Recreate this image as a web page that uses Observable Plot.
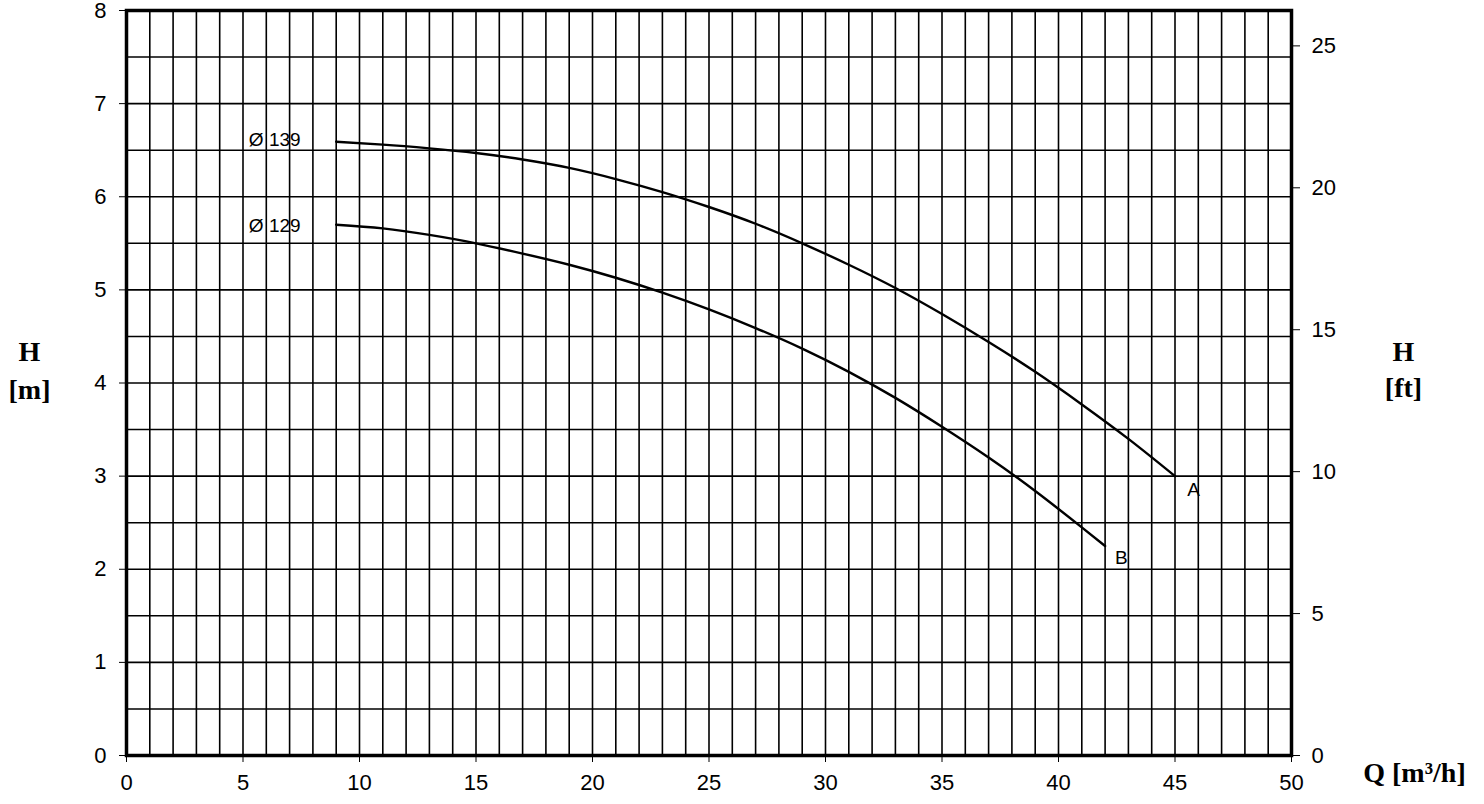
<!DOCTYPE html>
<html>
<head>
<meta charset="utf-8">
<script src="https://cdn.jsdelivr.net/npm/d3@7"></script>
<script src="https://cdn.jsdelivr.net/npm/@observablehq/plot@0.6"></script>
<style>
  html, body { margin: 0; padding: 0; background: #fff; }
  #chart svg { display: block; }
</style>
</head>
<body>
<div id="chart"></div>
<script>
// Curve A (Ø 139)
const qA = [9, 11, 13, 15, 17, 19, 21, 23, 25, 27, 29, 31, 33, 35, 37, 39, 41, 43, 45];
const hA = [6.59, 6.56, 6.52, 6.47, 6.40, 6.31, 6.19, 6.05, 5.89, 5.71, 5.50, 5.27, 5.02, 4.74, 4.44, 4.12, 3.77, 3.40, 3.0];
// Curve B (Ø 129)
const qB = [9, 11, 13, 15, 17, 19, 21, 23, 25, 27, 29, 31, 33, 35, 37, 39, 41, 42];
const hB = [5.70, 5.66, 5.59, 5.50, 5.39, 5.27, 5.13, 4.97, 4.79, 4.59, 4.37, 4.12, 3.84, 3.53, 3.20, 2.84, 2.45, 2.25];

// Tick values
const qTicks = [0, 5, 10, 15, 20, 25, 30, 35, 40, 45, 50];
const hTicks = [0, 1, 2, 3, 4, 5, 6, 7, 8];
const ftTicks = [0, 5, 10, 15, 20, 25];
const gridQ = d3.range(1, 50, 1);
const gridH = d3.range(0.5, 8, 0.5);

// Curve labels
const labelText = ["Ø 139", "Ø 129", "A", "B"];
const labelQ = [5.25, 5.25, 45.8, 42.7];
const labelH = [6.61, 5.69, 2.85, 2.12];
const labelAnchor = ["start", "start", "middle", "middle"];

const FT = 0.3048;

const curveA = qA.map((q, i) => ({q, h: hA[i]}));
const curveB = qB.map((q, i) => ({q, h: hB[i]}));
const labels = labelText.map((t, i) => ({t, q: labelQ[i], h: labelH[i], a: labelAnchor[i]}));

const serif = {fontFamily: "Liberation Serif", fontWeight: "bold", fontSize: 28, fill: "black", textAnchor: "middle"};

const chart = Plot.plot({
  width: 1484,
  height: 804,
  marginLeft: 126,
  marginRight: 193,
  marginTop: 10,
  marginBottom: 49,
  style: {fontFamily: "Liberation Sans", fontSize: "22px", color: "black", background: "white"},
  x: {domain: [0, 50]},
  y: {domain: [0, 8]},
  marks: [
    Plot.ruleX(gridQ, {x: d => d, stroke: "black", strokeWidth: 1.6}),
    Plot.ruleY(gridH, {y: d => d, stroke: "black", strokeWidth: 1.6}),
    Plot.line(curveA, {x: "q", y: "h", curve: "natural", stroke: "black", strokeWidth: 2.4}),
    Plot.line(curveB, {x: "q", y: "h", curve: "natural", stroke: "black", strokeWidth: 2.4}),
    Plot.text(labels.filter(d => d.a === "start"), {x: "q", y: "h", text: "t", textAnchor: "start", fontSize: 19, fill: "black"}),
    Plot.text(labels.filter(d => d.a === "middle"), {x: "q", y: "h", text: "t", textAnchor: "middle", fontSize: 19, fill: "black"}),
    Plot.frame({stroke: "black", strokeWidth: 3.5}),
    Plot.axisX(qTicks, {tickSize: 7, tickPadding: 12, tickFormat: d => d, label: null, fontSize: 22}),
    Plot.axisY(hTicks, {anchor: "left", tickSize: 7, tickPadding: 13, tickFormat: d => d, label: null, fontSize: 22}),
    Plot.axisY(ftTicks.map(f => f * FT), {anchor: "right", tickSize: 8, tickPadding: 12, tickFormat: d => Math.round(d / FT), label: null, fontSize: 22}),
    Plot.text(["H"], {frameAnchor: "left", dx: -97, dy: -31, ...serif}),
    Plot.text(["[m]"], {frameAnchor: "left", dx: -97, dy: 7, ...serif}),
    Plot.text(["H"], {frameAnchor: "right", dx: 112, dy: -31, ...serif}),
    Plot.text(["[ft]"], {frameAnchor: "right", dx: 112, dy: 5, ...serif}),
    Plot.text(["Q [m³/h]"], {frameAnchor: "bottom-right", dx: 123, dy: 26, ...serif})
  ]
});
document.getElementById("chart").appendChild(chart);
</script>
</body>
</html>
